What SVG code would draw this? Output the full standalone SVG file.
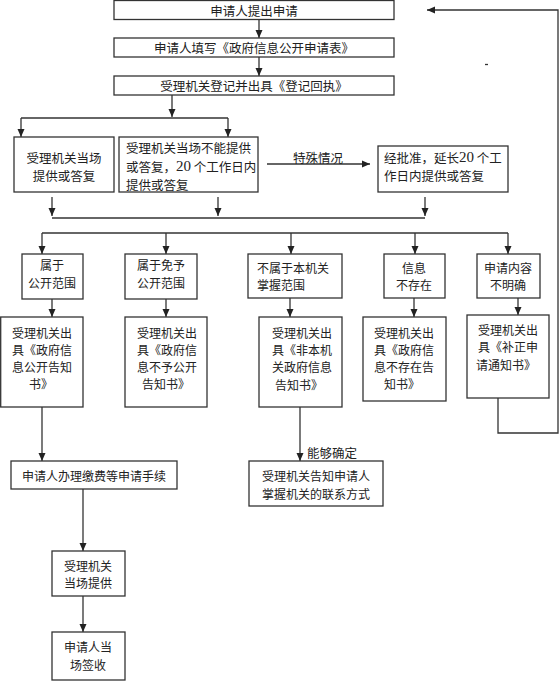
<svg xmlns="http://www.w3.org/2000/svg" width="560" height="683" viewBox="0 0 560 683">
<style>
.b{fill:#fff;stroke:#333;stroke-width:1.3}
.t{font-family:"Noto Sans CJK SC","Noto Sans",sans-serif;font-size:12.5px;fill:#222;text-anchor:middle;dominant-baseline:central}
.s{font-size:12px}
.l{text-anchor:start}
.n{font-family:"Liberation Serif",serif;font-size:15px}
.c{fill:none;stroke:#333;stroke-width:1.3}
.a{marker-end:url(#ah)}
</style>
<defs>
<marker id="ah" markerUnits="userSpaceOnUse" markerWidth="8" markerHeight="8" refX="8" refY="4" orient="auto">
<path d="M0,0.5 L8,4 L0,7.5 z" fill="#222"/>
</marker>
</defs>
<rect width="560" height="683" fill="#fff"/>
<g id="connectors">
<line class="c a" x1="259" y1="19.5" x2="259" y2="38"/>
<line class="c a" x1="259" y1="57" x2="259" y2="76"/>
<line class="c a" x1="172" y1="95" x2="172" y2="117"/>
<polyline class="c" points="21,118 228,118"/>
<line class="c a" x1="21" y1="118" x2="21" y2="137"/>
<line class="c a" x1="228" y1="118" x2="228" y2="137"/>
<line class="c a" x1="267" y1="164" x2="370" y2="164"/>
<text class="t" x="318" y="157">特殊情况</text>
<line class="c a" x1="52" y1="197" x2="52" y2="216"/>
<line class="c a" x1="218" y1="197" x2="218" y2="216"/>
<line class="c a" x1="425" y1="197" x2="425" y2="216"/>
<line class="c" x1="52" y1="218" x2="425" y2="218"/>
<line class="c" x1="42" y1="233" x2="508" y2="233"/>
<line class="c a" x1="42" y1="233" x2="42" y2="254"/>
<line class="c a" x1="166" y1="233" x2="166" y2="254"/>
<line class="c a" x1="291" y1="233" x2="291" y2="254"/>
<line class="c a" x1="415" y1="233" x2="415" y2="254"/>
<line class="c a" x1="508" y1="233" x2="508" y2="254"/>
<line class="c a" x1="52" y1="299" x2="52" y2="317"/>
<line class="c a" x1="166" y1="299" x2="166" y2="317"/>
<line class="c a" x1="290" y1="298" x2="290" y2="317"/>
<line class="c a" x1="414" y1="298" x2="414" y2="317"/>
<line class="c a" x1="518" y1="298" x2="518" y2="315"/>
<line class="c a" x1="42" y1="407" x2="42" y2="461"/>
<line class="c a" x1="300" y1="407" x2="300" y2="461"/>
<text class="t l" x="307" y="452">能够确定</text>
<line class="c a" x1="83" y1="489" x2="83" y2="551"/>
<line class="c a" x1="83" y1="596" x2="83" y2="632"/>
<polyline class="c a" points="498,398 498,433 558,433 558,10 427,10"/>
<line class="c" x1="485" y1="64.5" x2="488" y2="64.5"/>
</g>
<g id="n1"><rect class="b" x="114" y="0.5" width="280" height="19"/><text class="t" x="254" y="10">申请人提出申请</text></g>
<g id="n2"><rect class="b" x="114" y="38" width="280" height="19"/><text class="t" x="254" y="47.5">申请人填写《政府信息公开申请表》</text></g>
<g id="n3"><rect class="b" x="114" y="76" width="280" height="19"/><text class="t" x="254" y="85.5">受理机关登记并出具《登记回执》</text></g>
<g id="n4"><rect class="b" x="14" y="137" width="100" height="55"/><text class="t" x="64" y="157">受理机关当场</text><text class="t" x="64" y="175">提供或答复</text></g>
<g id="n5"><rect class="b" x="119" y="137" width="139" height="55"/>
<text class="t l" x="126" y="147">受理机关当场不能提供</text>
<text class="t l" x="126" y="166">或答复，<tspan class="n">20</tspan> 个工作日内</text>
<text class="t l" x="126" y="184">提供或答复</text></g>
<g id="n6"><rect class="b" x="378" y="146" width="130" height="46"/>
<text class="t l" x="384" y="157">经批准，延长<tspan class="n">20</tspan> 个工</text>
<text class="t l" x="384" y="175">作日内提供或答复</text></g>
<g id="n7"><rect class="b" x="22" y="254" width="61" height="45"/><text class="t s" x="52" y="264">属于</text><text class="t s" x="52" y="282">公开范围</text></g>
<g id="n8"><rect class="b" x="125" y="254" width="72" height="45"/><text class="t s" x="161" y="264">属于免予</text><text class="t s" x="161" y="282">公开范围</text></g>
<g id="n9"><rect class="b" x="248" y="254" width="94" height="44"/><text class="t s l" x="257" y="267">不属于本机关</text><text class="t s l" x="257" y="284">掌握范围</text></g>
<g id="n10"><rect class="b" x="384" y="254" width="61" height="44"/><text class="t s" x="414" y="267">信息</text><text class="t s" x="414" y="284">不存在</text></g>
<g id="n11"><rect class="b" x="477" y="254" width="63" height="44"/><text class="t s" x="508" y="267">申请内容</text><text class="t s" x="508" y="284">不明确</text></g>
<g id="n12"><rect class="b" x="0.7" y="317" width="82.3" height="90"/>
<text class="t s" x="42" y="332">受理机关出</text><text class="t s" x="42" y="349">具《政府信</text><text class="t s" x="42" y="366">息公开告知</text><text class="t s" x="41" y="383">书》</text></g>
<g id="n13"><rect class="b" x="125" y="317" width="82" height="90"/>
<text class="t s" x="167" y="332">受理机关出</text><text class="t s" x="167" y="349">具《政府信</text><text class="t s" x="167" y="366">息不予公开</text><text class="t s" x="166" y="383">告知书》</text></g>
<g id="n14"><rect class="b" x="259" y="317" width="83" height="90"/>
<text class="t s" x="302" y="332">受理机关出</text><text class="t s" x="302" y="349">具《非本机</text><text class="t s" x="302" y="366">关政府信息</text><text class="t s" x="299" y="384">告知书》</text></g>
<g id="n15"><rect class="b" x="363" y="317" width="83" height="84"/>
<text class="t s" x="404" y="332">受理机关出</text><text class="t s" x="404" y="349">具《政府信</text><text class="t s" x="404" y="366">息不存在告</text><text class="t s" x="402" y="383">知书》</text></g>
<g id="n16"><rect class="b" x="467" y="315" width="82" height="83"/>
<text class="t s" x="508" y="329">受理机关出</text><text class="t s" x="508" y="346">具《补正申</text><text class="t s" x="506" y="364">请通知书》</text></g>
<g id="n17"><rect class="b" x="11" y="461" width="166" height="28"/><text class="t s" x="94" y="475">申请人办理缴费等申请手续</text></g>
<g id="n18"><rect class="b" x="249" y="461" width="134" height="45"/><text class="t s" x="316" y="475">受理机关告知申请人</text><text class="t s" x="316" y="493">掌握机关的联系方式</text></g>
<g id="n19"><rect class="b" x="52" y="551" width="73" height="45"/><text class="t s" x="88" y="565">受理机关</text><text class="t s" x="88" y="582">当场提供</text></g>
<g id="n20"><rect class="b" x="52" y="632" width="73" height="48"/><text class="t s" x="88" y="646">申请人当</text><text class="t s" x="88" y="664">场签收</text></g>
</svg>
